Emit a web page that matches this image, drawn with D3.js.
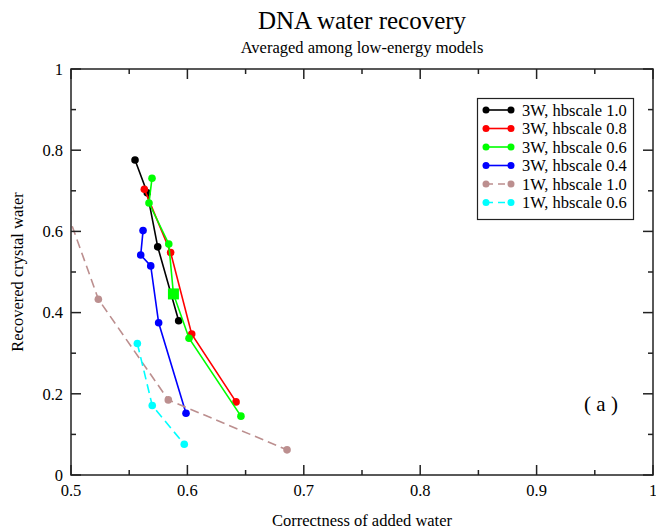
<!DOCTYPE html>
<html><head><meta charset="utf-8">
<script src="https://cdn.jsdelivr.net/npm/d3@7"></script>
<style>body{margin:0;background:#fff}svg{display:block}</style>
</head><body><svg id="c" width="656" height="531" font-family="Liberation Serif, DejaVu Serif, serif"></svg>
<script>
const seriesNames = ["3W, hbscale 1.0","3W, hbscale 0.8","3W, hbscale 0.6","3W, hbscale 0.4","1W, hbscale 1.0","1W, hbscale 0.6"];
const seriesColors = ["#000000","#ff0000","#00ff00","#0000ff","#bc8f8f","#00ffff"];
const seriesDashed = [false,false,false,false,true,true];
const x3W10 = [0.555, 0.5655, 0.5745, 0.5925];
const y3W10 = [0.776, 0.695, 0.562, 0.380];
const x3W08 = [0.563, 0.5856, 0.6037, 0.6418];
const y3W08 = [0.704, 0.548, 0.347, 0.180];
const x3W06 = [0.5696, 0.567, 0.584, 0.588, 0.6014, 0.646];
const y3W06 = [0.731, 0.670, 0.569, 0.446, 0.337, 0.145];
const x3W04 = [0.5619, 0.5599, 0.5685, 0.5753, 0.5988];
const y3W04 = [0.602, 0.542, 0.515, 0.375, 0.152];
const x1W10 = [0.497, 0.5235, 0.5836, 0.6856];
const y1W10 = [0.645, 0.433, 0.185, 0.062];
const x1W06 = [0.557, 0.5698, 0.5973];
const y1W06 = [0.324, 0.171, 0.0756];
const squareX = [0.588];
const squareY = [0.446];
const xTicks = [0.5,0.6,0.7,0.8,0.9,1];
const xTickLabels = ["0.5","0.6","0.7","0.8","0.9","1"];
const yTicks = [0,0.2,0.4,0.6,0.8,1];
const yTickLabels = ["0","0.2","0.4","0.6","0.8","1"];
const xMinor = [0.55,0.65,0.75,0.85,0.95];
const yMinor = [0.1,0.3,0.5,0.7,0.9];

const seriesX = [x3W10,x3W08,x3W06,x3W04,x1W10,x1W06];
const seriesY = [y3W10,y3W08,y3W06,y3W04,y1W10,y1W06];

const svg = d3.select("#c");
const L=71,R=653,T=69,B=475;
const x = d3.scaleLinear().domain([0.5,1]).range([L,R]);
const y = d3.scaleLinear().domain([0,1]).range([B,T]);
const FS = 16.5;

svg.append("defs").append("clipPath").attr("id","clip").append("rect")
  .attr("x",L).attr("y",T).attr("width",R-L).attr("height",B-T);

// titles
svg.append("text").attr("x",362).attr("y",29).attr("text-anchor","middle").attr("font-size",25).text("DNA water recovery");
svg.append("text").attr("x",362).attr("y",53).attr("text-anchor","middle").attr("font-size",FS).text("Averaged among low-energy models");
svg.append("text").attr("x",362).attr("y",526).attr("text-anchor","middle").attr("font-size",FS).text("Correctness of added water");
svg.append("text").attr("transform","translate(23,272) rotate(-90)").attr("text-anchor","middle").attr("font-size",FS).text("Recovered crystal water");

// data
const plot = svg.append("g").attr("clip-path","url(#clip)");
const line = d3.line().x(d=>x(d[0])).y(d=>y(d[1]));
seriesNames.forEach((n,i)=>{
  const pts = seriesX[i].map((v,j)=>[v,seriesY[i][j]]);
  plot.append("path").attr("d",line(pts)).attr("fill","none")
    .attr("stroke",seriesColors[i]).attr("stroke-width",1.6)
    .attr("stroke-dasharray",seriesDashed[i]?"9,5":null);
  plot.selectAll(null).data(pts).enter().append("circle")
    .attr("cx",d=>x(d[0])).attr("cy",d=>y(d[1])).attr("r",3.8)
    .attr("fill",seriesColors[i]);
});
plot.selectAll(null).data(squareX.map((v,j)=>[v,squareY[j]])).enter().append("rect")
  .attr("x",d=>x(d[0])-5.5).attr("y",d=>y(d[1])-5.5).attr("width",11).attr("height",11)
  .attr("fill","#00ff00");

// axes frame and ticks (inward, all sides)
const ax = svg.append("g").attr("stroke","#222").attr("stroke-width",1.5);
ax.append("rect").attr("x",L).attr("y",T).attr("width",R-L).attr("height",B-T).attr("fill","none");
xTicks.forEach(t=>{ax.append("line").attr("x1",x(t)).attr("x2",x(t)).attr("y1",B).attr("y2",B-10);
  ax.append("line").attr("x1",x(t)).attr("x2",x(t)).attr("y1",T).attr("y2",T+10);});
xMinor.forEach(t=>{ax.append("line").attr("x1",x(t)).attr("x2",x(t)).attr("y1",B).attr("y2",B-5);
  ax.append("line").attr("x1",x(t)).attr("x2",x(t)).attr("y1",T).attr("y2",T+5);});
yTicks.forEach(t=>{ax.append("line").attr("y1",y(t)).attr("y2",y(t)).attr("x1",L).attr("x2",L+10);
  ax.append("line").attr("y1",y(t)).attr("y2",y(t)).attr("x1",R).attr("x2",R-10);});
yMinor.forEach(t=>{ax.append("line").attr("y1",y(t)).attr("y2",y(t)).attr("x1",L).attr("x2",L+5);
  ax.append("line").attr("y1",y(t)).attr("y2",y(t)).attr("x1",R).attr("x2",R-5);});
xTicks.forEach((t,i)=>svg.append("text").attr("x",x(t)).attr("y",496).attr("text-anchor","middle").attr("font-size",FS).text(xTickLabels[i]));
yTicks.forEach((t,i)=>svg.append("text").attr("x",63).attr("y",y(t)).attr("dy","0.35em").attr("text-anchor","end").attr("font-size",FS).text(yTickLabels[i]));

// (a)
svg.append("text").attr("x",601).attr("y",411).attr("text-anchor","middle").attr("font-size",21).text("( a )");

// legend
const lg = svg.append("g");
lg.append("rect").attr("x",477.5).attr("y",98.5).attr("width",156).attr("height",121).attr("fill","#fff").attr("stroke","#222").attr("stroke-width",1.2);
seriesNames.forEach((n,i)=>{
  const yy = 110 + i*18.5;
  lg.append("line").attr("x1",486).attr("x2",511).attr("y1",yy).attr("y2",yy)
    .attr("stroke",seriesColors[i]).attr("stroke-width",1.6).attr("stroke-dasharray",seriesDashed[i]?"7,5":null);
  [486,511].forEach(cx=>lg.append("circle").attr("cx",cx).attr("cy",yy).attr("r",3.5).attr("fill",seriesColors[i]));
  lg.append("text").attr("x",522).attr("y",yy).attr("dy","0.35em").attr("font-size",FS).text(n);
});
</script></body></html>
